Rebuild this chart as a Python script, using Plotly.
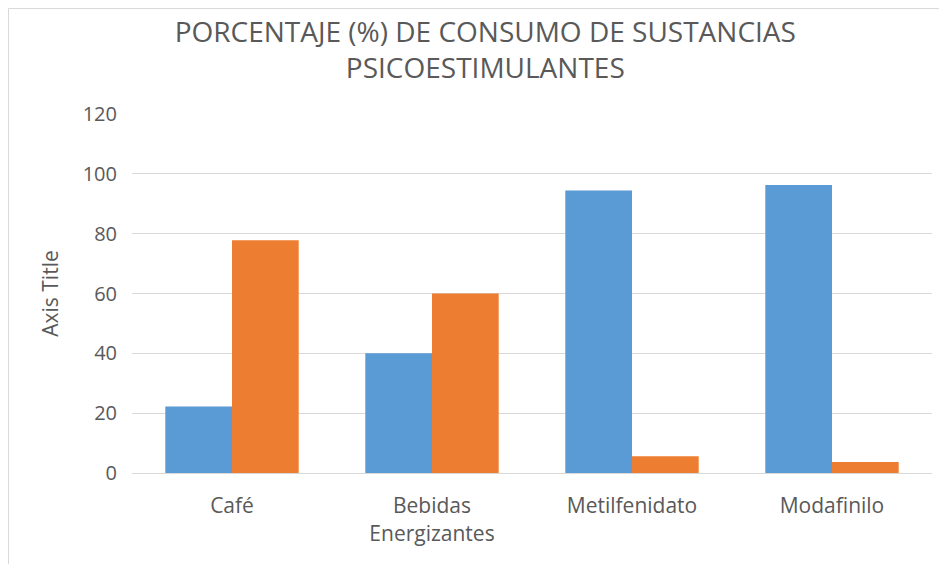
import plotly.graph_objects as go

categories = ["Café", "Bebidas<br>Energizantes", "Metilfenidato", "Modafinilo"]
serie_1 = [22.2, 40.0, 94.4, 96.3]
serie_2 = [77.8, 60.0, 5.6, 3.7]
y_ticks = [0, 20, 40, 60, 80, 100, 120]

FONT = "Open Sans"
GRAY = "#595959"

fig = go.Figure()
fig.add_trace(go.Bar(x=categories, y=serie_1, name="Serie 1",
                     marker=dict(color="#5B9BD5", line=dict(width=0))))
fig.add_trace(go.Bar(x=categories, y=serie_2, name="Serie 2",
                     marker=dict(color="#ED7D31", line=dict(width=0))))

# page is drawn with an 8px body margin, so positions are offset by 8px
L, R, T, B = 124, 23, 106, 99
W, H = 947, 564
pw, ph = W - L - R, H - T - B

fig.update_layout(
    width=W, height=H,
    margin=dict(l=L, r=R, t=T, b=B),
    paper_bgcolor="white", plot_bgcolor="white",
    barmode="group", bargap=0.333, bargroupgap=0,
    showlegend=False,
    font=dict(family=FONT, color=GRAY),
    title=dict(text="PORCENTAJE (%) DE CONSUMO DE SUSTANCIAS<br>PSICOESTIMULANTES",
               x=0.504, xanchor="center", xref="container",
               y=1 - 34 / H, yanchor="top", yref="container",
               font=dict(family=FONT, size=28, color=GRAY)),
    xaxis=dict(showgrid=False, showline=True, linecolor="#D9D9D9", linewidth=1,
               ticks="", ticklabelstandoff=14, tickfont=dict(size=21, color=GRAY)),
    yaxis=dict(range=[0, 120], tickvals=y_ticks, showgrid=True, gridcolor="#D9D9D9",
               gridwidth=1, zeroline=False, showline=False, ticks="",
               ticklabelstandoff=14,
               tickfont=dict(size=20, color=GRAY),
               title=dict(text="Axis Title", font=dict(size=21, color=GRAY), standoff=18)),
    shapes=[
        dict(type="line", xref="paper", yref="paper",
             x0=(0.5 - L) / pw, x1=(0.5 - L) / pw,
             y0=(H - H - B) / ph, y1=(H - 0.5 - B) / ph,
             line=dict(color="#D9D9D9", width=1)),
        dict(type="line", xref="paper", yref="paper",
             x0=(0.5 - L) / pw, x1=(W - L) / pw,
             y0=(H - 0.5 - B) / ph, y1=(H - 0.5 - B) / ph,
             line=dict(color="#D9D9D9", width=1)),
    ],
)

fig.write_html("out.html")
